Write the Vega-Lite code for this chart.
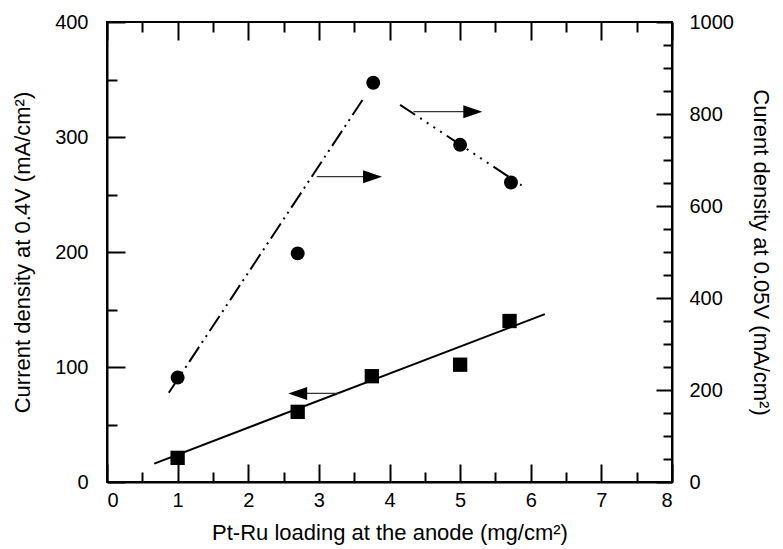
{
  "$schema": "https://vega.github.io/schema/vega-lite/v6.json",
  "width": 565,
  "height": 460,
  "autosize": "none",
  "padding": {"left": 107, "top": 22, "right": 111, "bottom": 67},
  "background": "white",
  "config": {
    "view": {"stroke": "black", "strokeWidth": 2},
    "font": "Liberation Sans",
    "axis": {
      "domainColor": "black",
      "domainWidth": 2,
      "tickColor": "black",
      "tickWidth": 2,
      "grid": false,
      "labelFont": "Liberation Sans",
      "labelFontSize": 20,
      "labelColor": "black",
      "titleFont": "Liberation Sans",
      "titleFontSize": 22,
      "titleFontWeight": "normal",
      "titleColor": "black"
    }
  },
  "datasets": {
    "squares": [
      {"loading": 1, "cd": 21},
      {"loading": 2.7, "cd": 61},
      {"loading": 3.75, "cd": 92},
      {"loading": 5, "cd": 102},
      {"loading": 5.7, "cd": 140}
    ],
    "squarefit": [
      {"loading": 0.67, "cd": 16},
      {"loading": 6.2, "cd": 146}
    ],
    "circles": [
      {"loading": 1, "cd": 227},
      {"loading": 2.7, "cd": 497},
      {"loading": 3.77, "cd": 868},
      {"loading": 5, "cd": 733},
      {"loading": 5.72, "cd": 651}
    ],
    "rise": [
      {"loading": 0.875, "cd": 194},
      {"loading": 3.65, "cd": 838}
    ],
    "fall": [
      {"loading": 4.15, "cd": 820},
      {"loading": 5.87, "cd": 645}
    ],
    "arrows": [
      {"from": 3.28, "to": 2.7, "level": 77, "dir": "left"},
      {"from": 2.97, "to": 3.76, "level": 265.5, "dir": "right"},
      {"from": 4.34, "to": 5.18, "level": 322, "dir": "right"}
    ]
  },
  "layer": [
    {
      "layer": [
        {
          "data": {"name": "squarefit"},
          "mark": {"type": "line", "color": "black", "strokeWidth": 2},
          "encoding": {
            "x": {
              "field": "loading", "type": "quantitative",
              "scale": {"domain": [0, 8], "nice": false, "zero": false},
              "axis": {
                "orient": "bottom",
                "title": "Pt-Ru loading at the anode (mg/cm²)",
                "values": [0, 1, 2, 3, 4, 5, 6, 7, 8],
                "tickSize": -18,
                "labelPadding": 26,
                "titlePadding": 12
              }
            },
            "y": {
              "field": "cd", "type": "quantitative",
              "scale": {"domain": [0, 400], "nice": false},
              "axis": {
                "orient": "left",
                "title": "Current density at 0.4V (mA/cm²)",
                "values": [0, 100, 200, 300, 400],
                "tickSize": -18,
                "labelPadding": 37,
                "titlePadding": 20
              }
            }
          }
        },
        {
          "data": {"name": "squares"},
          "mark": {"type": "point", "shape": "square", "filled": true, "color": "black", "opacity": 1, "size": 205},
          "encoding": {
            "x": {
              "field": "loading", "type": "quantitative",
              "axis": {"orient": "bottom", "title": null, "labels": false, "domain": false, "values": [0.5, 1.5, 2.5, 3.5, 4.5, 5.5, 6.5, 7.5], "tickSize": -10}
            },
            "y": {
              "field": "cd", "type": "quantitative",
              "axis": {"orient": "left", "title": null, "labels": false, "domain": false, "values": [50, 150, 250, 350], "tickSize": -10}
            }
          }
        },
        {
          "data": {"name": "arrows"},
          "mark": {"type": "rule", "color": "#333333", "strokeWidth": 1.3},
          "encoding": {
            "x": {
              "field": "from", "type": "quantitative",
              "axis": {"orient": "top", "title": null, "labels": false, "domain": false, "values": [0, 1, 2, 3, 4, 5, 6, 7, 8], "tickSize": -18}
            },
            "x2": {"field": "to"},
            "y": {"field": "level", "type": "quantitative", "axis": null}
          }
        },
        {
          "data": {"name": "arrows"},
          "mark": {"type": "point", "filled": true, "color": "black", "opacity": 1, "size": 361, "strokeWidth": 0},
          "encoding": {
            "x": {
              "field": "to", "type": "quantitative",
              "axis": {"orient": "top", "title": null, "labels": false, "domain": false, "values": [0.5, 1.5, 2.5, 3.5, 4.5, 5.5, 6.5, 7.5], "tickSize": -10}
            },
            "y": {"field": "level", "type": "quantitative", "axis": null},
            "shape": {
              "field": "dir", "type": "nominal",
              "scale": {"domain": ["left", "right"], "range": ["M1,-0.68L-1,0L1,0.68Z", "M-1,-0.68L1,0L-1,0.68Z"]},
              "legend": null
            }
          }
        }
      ],
      "resolve": {"axis": {"x": "independent", "y": "independent"}}
    },
    {
      "layer": [
        {
          "data": {"name": "rise"},
          "mark": {"type": "line", "color": "black", "strokeWidth": 2, "strokeDash": [18, 5, 2, 5, 2, 5]},
          "encoding": {
            "x": {"field": "loading", "type": "quantitative", "axis": null},
            "y": {
              "field": "cd", "type": "quantitative",
              "scale": {"domain": [0, 1000], "nice": false},
              "axis": {
                "orient": "right",
                "title": "Curent density at 0.05V (mA/cm²)",
                "values": [0, 200, 400, 600, 800, 1000],
                "format": "d",
                "tickSize": -16,
                "labelPadding": 33,
                "titlePadding": 15
              }
            }
          }
        },
        {
          "data": {"name": "fall"},
          "mark": {"type": "line", "color": "black", "strokeWidth": 2, "strokeDash": [18, 6, 2, 6, 2, 6, 2, 6, 2, 6]},
          "encoding": {
            "x": {"field": "loading", "type": "quantitative", "axis": null},
            "y": {
              "field": "cd", "type": "quantitative",
              "axis": {"orient": "right", "title": null, "labels": false, "domain": false, "values": [50, 100, 150, 250, 300, 350, 450, 500, 550, 650, 700, 750, 850, 900, 950], "tickSize": -9}
            }
          }
        },
        {
          "data": {"name": "circles"},
          "mark": {"type": "point", "shape": "circle", "filled": true, "color": "black", "opacity": 1, "size": 194},
          "encoding": {
            "x": {"field": "loading", "type": "quantitative", "axis": null},
            "y": {"field": "cd", "type": "quantitative", "axis": null}
          }
        }
      ],
      "resolve": {"axis": {"y": "independent"}}
    }
  ],
  "resolve": {"scale": {"y": "independent"}}
}
